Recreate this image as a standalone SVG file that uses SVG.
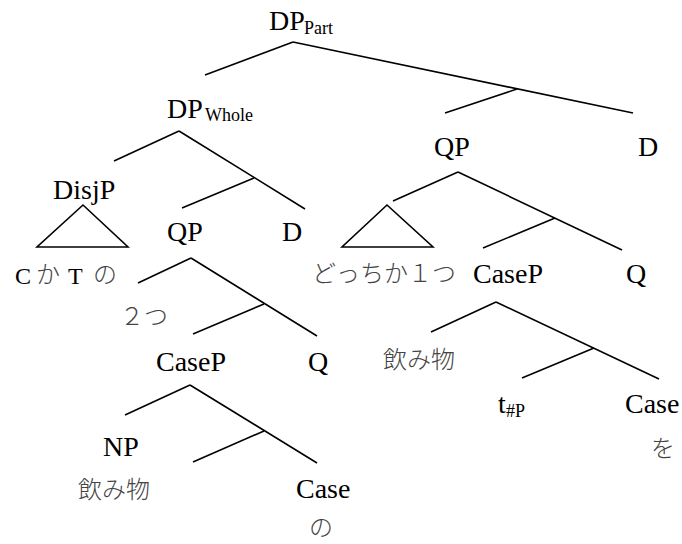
<svg xmlns="http://www.w3.org/2000/svg" width="682" height="544" viewBox="0 0 682 544">
<style>
.l{font-family:"Liberation Serif","Noto Sans CJK JP",serif;font-size:28px;fill:#000}
.s{font-size:18px}
.m{font-size:24px}
.j{font-family:"Noto Sans CJK JP","Liberation Serif",sans-serif;font-size:24px;fill:#444;font-weight:300}
.e line,.e polygon{stroke:#000;stroke-width:1.6;fill:none}
</style>
<rect width="682" height="544" fill="#fff"/>
<g id="connectors" class="e">
<line x1="293" y1="42" x2="205" y2="75"/>
<line x1="293" y1="42" x2="633" y2="113"/>
<line x1="517" y1="89" x2="445" y2="113"/>
<line x1="179" y1="131" x2="114" y2="161"/>
<line x1="179" y1="131" x2="305" y2="209"/>
<line x1="254" y1="178" x2="182" y2="208"/>
<line x1="191" y1="258" x2="138" y2="283"/>
<line x1="191" y1="258" x2="317" y2="336"/>
<line x1="264" y1="304" x2="193" y2="334"/>
<line x1="190" y1="385" x2="125" y2="415"/>
<line x1="190" y1="385" x2="317" y2="463"/>
<line x1="264" y1="431" x2="193" y2="462"/>
<line x1="458" y1="172" x2="393" y2="201"/>
<line x1="458" y1="172" x2="622" y2="250"/>
<line x1="555" y1="218" x2="483" y2="248"/>
<line x1="496" y1="302" x2="431" y2="332"/>
<line x1="496" y1="302" x2="659" y2="379"/>
<line x1="594" y1="348" x2="522" y2="378"/>
<polygon points="83,205 37,247 128,247"/>
<polygon points="387,205 342,247 433,247"/>
</g>
<g id="dp-part"><text class="l" x="269" y="30">DP</text><text class="l s" x="304" y="34">Part</text></g>
<g id="dp-whole"><text class="l" x="167" y="118">DP</text><text class="l s" x="205" y="121">Whole</text></g>
<g id="disjp"><text class="l" x="53" y="199">DisjP</text></g>
<g id="cktno"><text class="l m" x="15" y="284">C</text><text class="j" x="36" y="283">か</text><text class="l m" x="68" y="284">T</text><text class="j" x="93" y="283">の</text></g>
<g id="qp-left"><text class="l" x="167" y="241">QP</text></g>
<g id="d-left"><text class="l" x="282" y="241">D</text></g>
<g id="futatsu"><text class="j" x="120" y="325">２つ</text></g>
<g id="casep-left"><text class="l" x="156" y="371">CaseP</text></g>
<g id="q-left"><text class="l" x="308" y="371">Q</text></g>
<g id="np"><text class="l" x="103" y="456">NP</text></g>
<g id="nomimono-left"><text class="j" x="78" y="498">飲み物</text></g>
<g id="case-left"><text class="l" x="296" y="498">Case</text></g>
<g id="no"><text class="j" x="309" y="536">の</text></g>
<g id="qp-right"><text class="l" x="434" y="156">QP</text></g>
<g id="d-right"><text class="l" x="638" y="156">D</text></g>
<g id="docchika"><text class="j" x="312" y="282">どっちか１つ</text></g>
<g id="casep-right"><text class="l" x="473" y="283">CaseP</text></g>
<g id="q-right"><text class="l" x="626" y="283">Q</text></g>
<g id="nomimono-right"><text class="j" x="383" y="368">飲み物</text></g>
<g id="trace"><text class="l" x="498" y="413">t</text><text class="l s" x="506" y="417">#P</text></g>
<g id="case-right"><text class="l" x="625" y="413">Case</text></g>
<g id="wo"><text class="j" x="651" y="457">を</text></g>
</svg>
